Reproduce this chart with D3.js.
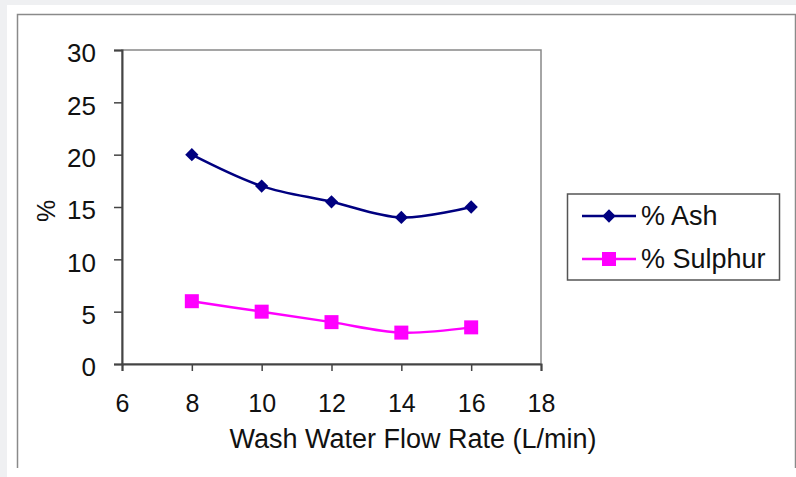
<!DOCTYPE html>
<html><head><meta charset="utf-8">
<script src="https://cdn.jsdelivr.net/npm/d3@7"></script>
<style>
html,body{margin:0;padding:0;background:#eff0f2;}
svg{display:block;}
text{font-family:"Liberation Sans",Arial,sans-serif;fill:#111;}
</style></head>
<body>
<svg id="c" width="796" height="477"></svg>
<script>
const flowRates = [8, 10, 12, 14, 16];
const ashValues = [20, 17, 15.5, 14, 15];
const sulphurValues = [6, 5, 4, 3, 3.5];
const xTicks = [6, 8, 10, 12, 14, 16, 18];
const yTicks = [0, 5, 10, 15, 20, 25, 30];
const seriesNames = ["% Ash", "% Sulphur"];

const svg = d3.select("#c");
svg.append("rect").attr("x",7).attr("y",5).attr("width",789).attr("height",472).attr("fill","#fff");
svg.append("path").attr("d","M17.5,468 V14.5 H795.5 V468").attr("fill","none").attr("stroke","#8a8a8a").attr("stroke-width",1.5);

const x = d3.scaleLinear().domain([6,18]).range([122,541]);
const y = d3.scaleLinear().domain([0,30]).range([364,50]);

svg.append("rect").attr("x",122).attr("y",50).attr("width",419).attr("height",314)
  .attr("fill","none").attr("stroke","#888").attr("stroke-width",1.5);

const yAxis = svg.append("g").attr("transform","translate(122,0)")
  .call(d3.axisLeft(y).tickValues(yTicks).tickSize(8).tickPadding(18));
const xAxis = svg.append("g").attr("transform","translate(0,364)")
  .call(d3.axisBottom(x).tickValues(xTicks).tickSize(7).tickPadding(14));
[yAxis,xAxis].forEach(a=>{
  a.attr("font-size",null).attr("font-family",null);
  a.select(".domain").attr("stroke","#444").attr("stroke-width",2);
  a.selectAll(".tick line").attr("stroke","#444").attr("stroke-width",1.5);
  a.selectAll(".tick text").attr("fill","#111");
});
yAxis.selectAll(".tick text").style("font-size","26px").attr("dy","0.45em");
xAxis.selectAll(".tick text").style("font-size","25px").attr("y",48).attr("dy",0);

svg.append("text").attr("x",413).attr("y",448).attr("text-anchor","middle")
  .style("font-size","27px").text("Wash Water Flow Rate (L/min)");
svg.append("text").attr("transform","translate(55,211) rotate(-90)").attr("text-anchor","middle")
  .style("font-size","25px").text("%");

const line = d3.line().x(d=>x(d[0])).y(d=>y(d[1])).curve(d3.curveCatmullRom.alpha(0.5));
const ash = flowRates.map((f,i)=>[f,ashValues[i]]);
const sul = flowRates.map((f,i)=>[f,sulphurValues[i]]);
const colors = ["#000080","#ff00ff"];

svg.append("path").datum(ash).attr("d",line).attr("fill","none").attr("stroke",colors[0]).attr("stroke-width",2.5);
svg.append("path").datum(sul).attr("d",line).attr("fill","none").attr("stroke",colors[1]).attr("stroke-width",2.5);

const diamond = d3.symbol().type(d3.symbolSquare).size(88);
svg.selectAll(".ash").data(ash).enter().append("path")
  .attr("d",diamond).attr("fill",colors[0])
  .attr("transform",d=>`translate(${x(d[0])},${y(d[1])}) rotate(45)`);
svg.selectAll(".sul").data(sul).enter().append("rect")
  .attr("x",d=>x(d[0])-7).attr("y",d=>y(d[1])-7).attr("width",14).attr("height",14).attr("fill",colors[1]);

const lg = svg.append("g");
lg.append("rect").attr("x",567.5).attr("y",194).attr("width",212).attr("height",86)
  .attr("fill","#fff").attr("stroke","#555").attr("stroke-width",1.5);
seriesNames.forEach((n,i)=>{
  const cy = 216 + i*43;
  lg.append("line").attr("x1",582).attr("x2",636).attr("y1",cy).attr("y2",cy).attr("stroke",colors[i]).attr("stroke-width",2.5);
  if(i===0) lg.append("path").attr("d",diamond).attr("fill",colors[0]).attr("transform",`translate(609,${cy}) rotate(45)`);
  else lg.append("rect").attr("x",602).attr("y",cy-7).attr("width",14).attr("height",14).attr("fill",colors[1]);
  lg.append("text").attr("x",641).attr("y",cy+9).style("font-size","27px").text(n);
});
</script>
</body></html>
